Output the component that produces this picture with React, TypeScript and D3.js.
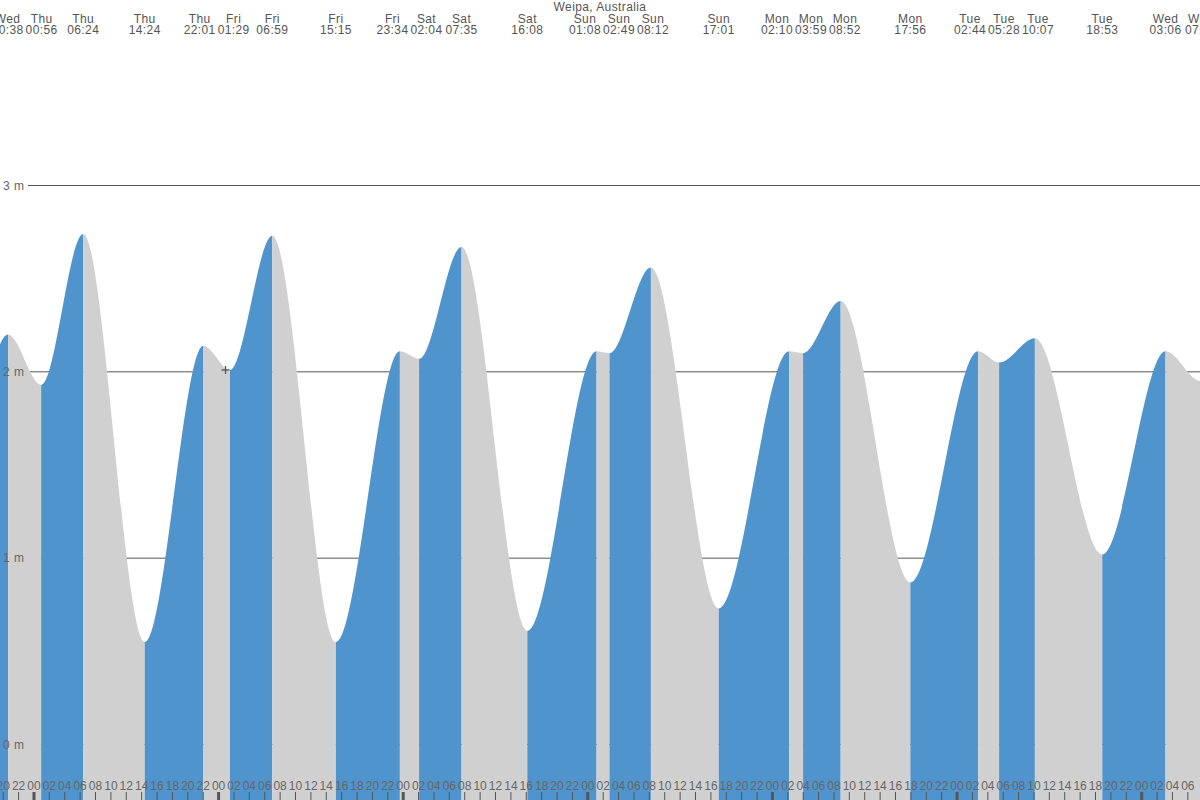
import * as d3 from 'd3';

// Tide extremes for Weipa (local time). First and last sit just outside the view.
const extremeTimes = [
  '2024-01-03 13:40',
  '2024-01-03 20:38',
  '2024-01-04 00:56',
  '2024-01-04 06:24',
  '2024-01-04 14:24',
  '2024-01-04 22:01',
  '2024-01-05 01:29',
  '2024-01-05 06:59',
  '2024-01-05 15:15',
  '2024-01-05 23:34',
  '2024-01-06 02:04',
  '2024-01-06 07:35',
  '2024-01-06 16:08',
  '2024-01-07 01:08',
  '2024-01-07 02:49',
  '2024-01-07 08:12',
  '2024-01-07 17:01',
  '2024-01-08 02:10',
  '2024-01-08 03:59',
  '2024-01-08 08:52',
  '2024-01-08 17:56',
  '2024-01-09 02:44',
  '2024-01-09 05:28',
  '2024-01-09 10:07',
  '2024-01-09 18:53',
  '2024-01-10 03:06',
  '2024-01-10 07:42',
  '2024-01-10 13:50'
];

const extremeHeights = [
  0.55, 2.2, 1.93, 2.74, 0.55, 2.14, 2.01, 2.73, 0.55, 2.11, 2.07, 2.67, 0.61, 2.11, 2.1, 2.56, 0.73, 2.11, 2.1,
  2.38, 0.87, 2.11, 2.05, 2.18, 1.02, 2.11, 1.95, 2.55
];

const heightTicks = [0, 1, 2, 3];

const viewStart = '2024-01-03 19:35';
const viewEnd = '2024-01-10 07:35';

const nowTime = '2024-01-05 00:54';
const nowHeight = 2.01;

const title = 'Weipa, Australia';

interface Extreme {
  date: Date;
  height: number;
}

const parse = d3.utcParse('%Y-%m-%d %H:%M');

const width = 1200;
const height = 800;
const blue = '#4f94cd';
const grey = '#d0d0d0';
const font = "'Liberation Sans', Arial, sans-serif";
const labelGap = 34;

// push neighbouring top labels apart so they don't overlap
const spreadLabels = (xs: number[]): number[] => {
  const p = xs.slice();
  for (let k = 0; k < 200; k++) {
    let moved = false;
    for (let i = 0; i < p.length - 1; i++) {
      const gap = p[i + 1] - p[i];
      if (gap < labelGap - 0.01) {
        const s = (labelGap - gap) / 2;
        p[i] -= s;
        p[i + 1] += s;
        moved = true;
      }
    }
    if (!moved) break;
  }
  return p;
};

const App = (): JSX.Element => {
  const extremes: Extreme[] = extremeTimes.map((t, i) => ({ date: parse(t) as Date, height: extremeHeights[i] }));

  const x = d3.scaleUtc([parse(viewStart) as Date, parse(viewEnd) as Date], [0, width]);
  const y = d3.scaleLinear([0, 3], [744.5, 185.5]);

  const area = d3
    .area<Extreme>()
    .x((d) => x(d.date))
    .y0(height)
    .y1((d) => y(d.height))
    .curve(d3.curveMonotoneX);

  const hourTicks = x.ticks(d3.utcHour.every(2) as d3.TimeInterval);
  const fmtDay = d3.utcFormat('%a');
  const fmtTime = d3.utcFormat('%H:%M');
  const fmtHour = d3.utcFormat('%H');

  const labelX = spreadLabels(extremes.map((d) => x(d.date)));

  const nx = x(parse(nowTime) as Date);
  const ny = y(nowHeight);

  return (
    <svg
      width={width}
      height={height}
      viewBox={`0 0 ${width} ${height}`}
      style={{ position: 'absolute', left: 0, top: 0, background: '#fff' }}
    >
      <defs>
        <clipPath id="tide-area">
          <path d={area(extremes) ?? ''} />
        </clipPath>
      </defs>

      {/* grid lines sit under the water */}
      {heightTicks.map((h) => (
        <line key={h} x1={28} x2={width} y1={y(h)} y2={y(h)} stroke="#555" strokeWidth={1} />
      ))}

      {/* rising = blue, falling = grey */}
      <g clipPath="url(#tide-area)">
        {extremes.slice(0, -1).map((d, i) => {
          const next = extremes[i + 1];
          const x0 = x(d.date);
          const x1 = x(next.date);
          return (
            <rect
              key={i}
              x={x0}
              y={0}
              width={x1 - x0}
              height={height}
              fill={next.height > d.height ? blue : grey}
            />
          );
        })}
      </g>

      {/* height labels */}
      {heightTicks.map((h) => (
        <text key={h} x={3} y={y(h) + 4} fontFamily={font} fontSize={12} letterSpacing={0.5} fill="#666">
          {h} m
        </text>
      ))}

      {/* title and extreme labels */}
      <text x={width / 2} y={11} textAnchor="middle" fontFamily={font} fontSize={12} letterSpacing={0.4} fill="#555">
        {title}
      </text>
      {extremes.map((d, i) => (
        <g key={i} fontFamily={font} fontSize={12} letterSpacing={0.4} fill="#555" textAnchor="middle">
          <text x={labelX[i]} y={23}>
            {fmtDay(d.date)}
          </text>
          <text x={labelX[i]} y={34}>
            {fmtTime(d.date)}
          </text>
        </g>
      ))}

      {/* hour axis */}
      {hourTicks.map((t, i) => {
        const midnight = t.getUTCHours() === 0;
        return (
          <g key={i}>
            <line
              x1={x(t)}
              x2={x(t)}
              y1={792}
              y2={height}
              stroke="#555"
              strokeWidth={midnight ? 3 : 1}
            />
            <text x={x(t)} y={790} textAnchor="middle" fontFamily={font} fontSize={12} fill="#666">
              {fmtHour(t)}
            </text>
          </g>
        );
      })}

      {/* current time marker */}
      <g stroke="#555" strokeWidth={1.3}>
        <line x1={nx - 4} x2={nx + 4} y1={ny} y2={ny} />
        <line x1={nx} x2={nx} y1={ny - 4} y2={ny + 4} />
      </g>
    </svg>
  );
};

export default App;
